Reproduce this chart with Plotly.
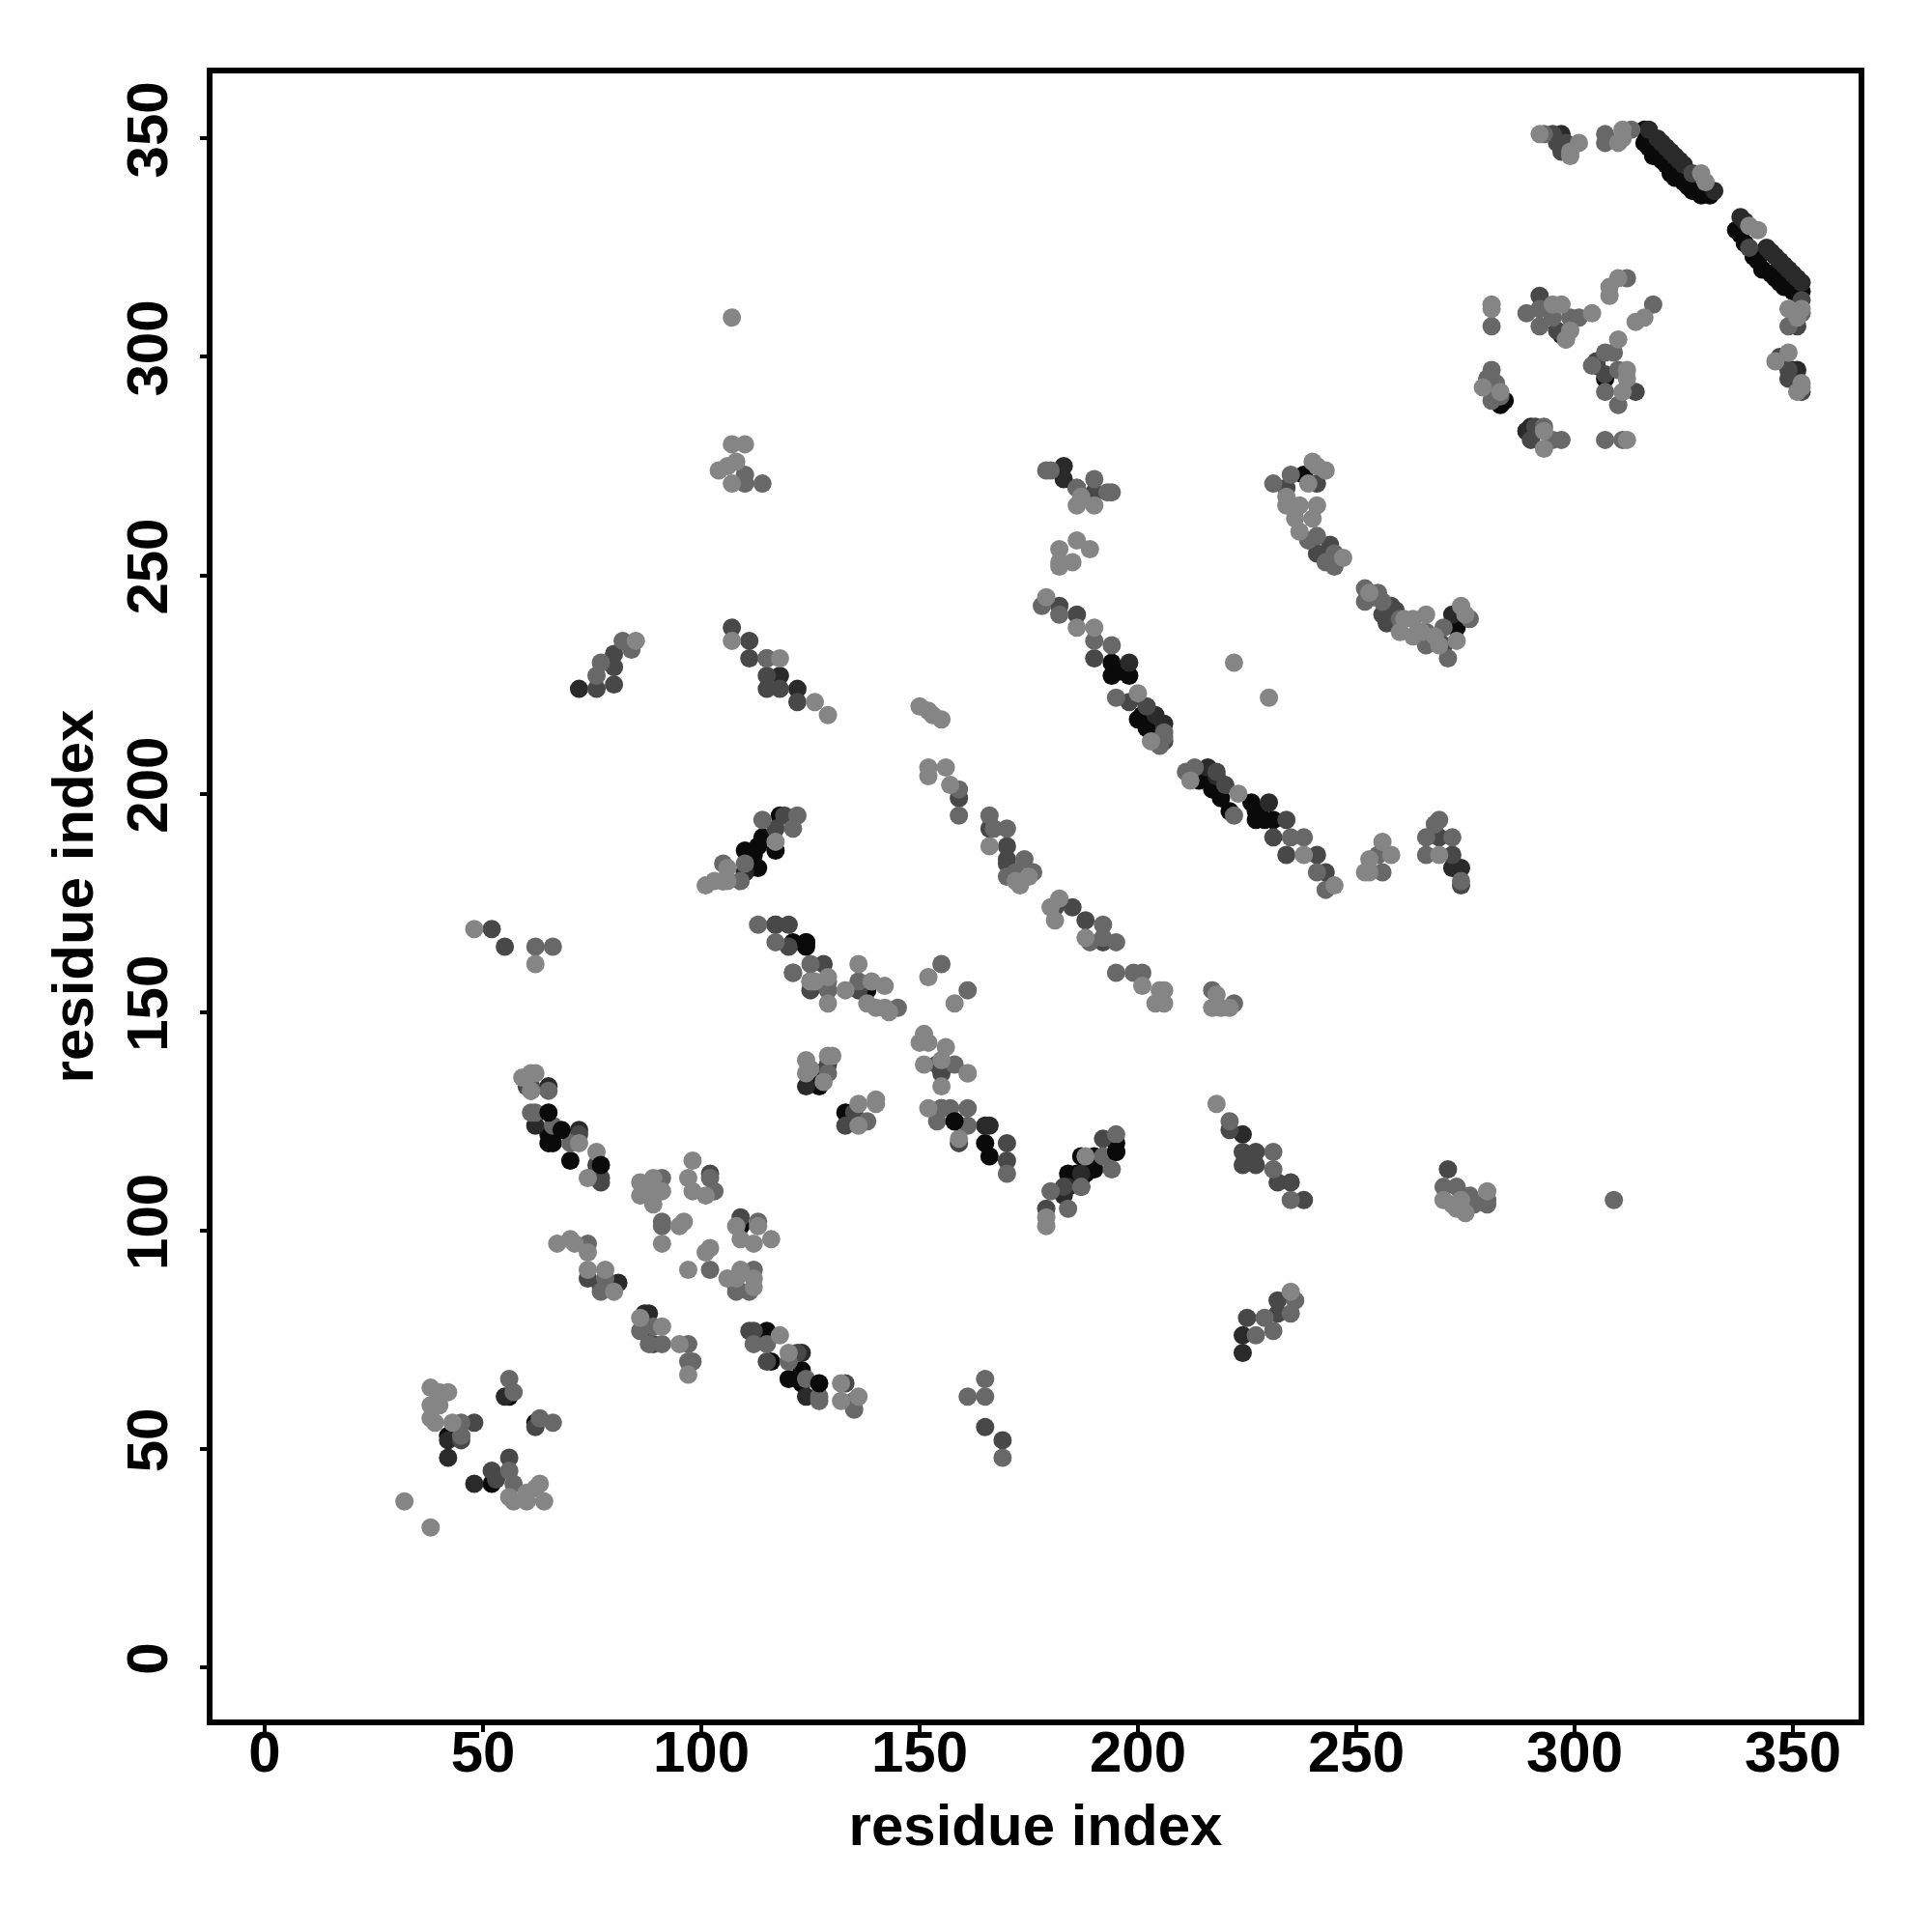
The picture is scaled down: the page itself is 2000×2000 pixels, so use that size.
import plotly.graph_objects as go

tick_vals = [0, 50, 100, 150, 200, 250, 300, 350]

black_pts = [(42,53),(56,62),(62,56),(52,42),(65,122),(66,120),(65,120),(70,116),(87,77),(115,77),(116,70),(120,66),(123,68),(123,65),
 (127,133),(127,136),(133,127),(109,101),(110,182),(113,183),(110,187),(113,188),(114,190),(112,186),(117,187),(118,195),(121,166),(124,166),(124,165),(125,157),(138,155),
 (158,125),(165,120),(166,117),(184,113),(187,110),(185,112),(186,113),(188,113),(187,112),(187,117),(190,114),(190,117),(195,118),(195,120),
 (194,230),(194,227),(196,228),(198,227),(200,217),(202,215),(201,218),(204,213),(214,203),(215,204),(217,201),(219,199),(221,196),(226,198),(227,196),(227,194),(231,194),(229,194),
 (238,273),(273,238),(316,352),(316,349),(317,348),(318,346),(320,345),(321,344),(322,342),(323,341),(325,340),(326,339),(327,338),(329,337),(331,337),
 (337,329),(338,328),(339,326),(341,323),(342,322),(343,320),(345,319),(346,318),(347,317),(348,316),(350,315),(352,315),
 (297,305),(307,295),(283,289),(284,290),(289,283),(305,298)]

darker_pts = [(42,52),(42,48),(55,62),(48,42),(65,133),(62,124),(72,123),(87,81),(88,81),(87,79),(123,72),(124,62),(124,133),(117,170),(105,180),
 (166,124),(165,124),(187,113),(183,275),(183,272),(198,230),(204,218),(206,216),(216,206),(218,204),(230,198),(272,183),(274,183),(272,241),(72,224),(118,227),(122,224),(224,72),(224,76),(224,122),
 (317,352),(319,350),(320,349),(321,348),(322,347),(323,346),(324,345),(325,344),(332,338),(338,332),(339,331),(344,325),(345,324),(346,323),(347,322),(348,321),(349,320),(350,319),(351,318),(352,317),
 (297,351),(290,284),(351,297),(350,297),(81,88),(110,182),(289,283),(183,108),(184,110)]

dark_pts = [(62,55),(48,56),(56,48),(52,45),(53,43),(60,133),(61,133),(72,122),(77,112),(77,111),(76,115),(102,113),(109,103),(74,89),(77,87),(89,74),(111,77),(112,77),(115,70),(122,72),
 (133,65),(133,124),(135,127),(129,138),(159,199),(166,192),(170,188),(170,185),(170,184),(181,174),(185,174),(170,120),(170,116),(179,105),(183,110),(192,121),(186,270),(190,269),(182,243),(186,241),(190,231),(198,221),(202,220),
 (220,202),(231,190),(241,186),(243,182),(234,186),(241,271),(244,257),(241,255),(259,242),(258,243),(256,241),(257,239),(270,234),(269,190),(272,186),(274,179),(234,270),
 (76,224),(80,225),(80,229),(80,232),(107,238),(111,235),(111,231),(115,231),(115,227),(115,224),(118,224),(122,221),
 (52,169),(55,165),(165,55),(169,52),(225,80),(232,84),(232,81),(221,123),(224,118),(227,118),(224,115),(227,115),(232,111),(235,111),(238,107),(271,114),
 (295,351),(296,349),(297,347),(298,349),(327,342),(340,325),(352,313),(351,307),(347,300),(349,297),(349,295),(352,292),(292,314),(296,306),(305,299),(307,296),(314,292),(281,292),(290,281),(291,284),(121,159),(154,138),(155,136),(159,120),(155,128),(117,192),(119,195),(120,165),(117,170),(120,170),(128,161),(136,155),(125,155),(204,212),(206,212),(218,205),(234,194),(45,53),(45,52),(192,166),(188,171)]

mid_pts = [(66,56),(57,42),(45,56),(45,53),(56,66),(57,63),(63,57),(56,45),(61,127),(62,127),(61,132),(65,132),(66,124),(70,120),(74,97),(77,86),(91,112),(102,112),(103,109),(91,102),(91,101),(113,102),(102,91),(112,91),(108,87),(108,86),(111,86),(78,89),(86,77),(89,78),(88,74),(91,74),(97,74),(98,70),(97,70),(112,74),(115,74),(120,70),(124,66),(127,61),(127,62),(135,59),(135,61),
 (129,136),(138,125),(109,180),(105,184),(110,184),(114,194),(122,195),(121,192),(113,170),(117,166),(121,159),(125,161),(129,155),(129,157),(136,157),(145,151),(155,161),(161,155),(158,138),(155,128),(154,125),(157,128),(161,128),(161,124),(170,113),
 (166,195),(167,192),(170,192),(174,185),(176,182),(170,181),(172,182),(192,170),(192,167),(195,166),(189,166),(195,159),(199,159),(201,159),(217,155),(222,152),(159,195),(159,201),(180,109),(184,105),(187,110),(194,114),(195,122),(192,117),
 (179,274),(180,274),(190,272),(186,270),(193,269),(194,269),(178,243),(182,241),(190,235),(194,234),(195,222),(211,205),(213,206),(222,195),(235,190),(238,190),(241,182),(243,178),
 (255,186),(256,182),(269,194),(268,193),(266,190),(272,190),(266,186),(274,180),(231,271),(235,273),(239,258),(241,259),(245,255),(243,253),(245,252),(246,254),(252,247),(252,244),(254,245),(255,246),(256,244),(260,240),(266,237),(266,234),(271,231),(270,238),(276,240),
 (77,230),(76,227),(84,233),(82,235),(110,273),(110,271),(114,271),(115,231),(62,165),(66,165),(161,62),(165,62),(165,66),(169,48),(229,80),(227,76),(231,77),(235,81),(236,84),(221,125),(231,118),(231,114),(235,107),(270,110),(273,110),(276,108),(277,106),(280,107),(280,106),(309,107),
 (293,351),(307,351),(307,349),(313,352),(352,310),(349,307),(281,307),(289,310),(292,311),(292,307),(295,309),(299,309),(301,309),(298,304),(307,301),(304,298),(309,301),(307,292),(310,297),(310,289),(312,318),(318,312),(281,297),(282,294),(280,295),(281,290),(283,291),(293,284),(295,281),(297,281),(307,281),(311,281),(206,214),(205,211),(206,213)]

light_pts = [(32,38),(38,32),(38,64),(42,63),(40,63),(38,60),(40,60),(38,57),(39,56),(43,56),(56,39),(57,38),(60,40),(63,42),(60,38),(64,38),(62,41),(59,135),(61,136),(62,136),(61,132),(72,120),(76,118),(74,112),
 (86,111),(86,108),(89,112),(89,109),(91,109),(89,106),(88,108),(98,116),(97,112),(98,109),(101,108),(96,102),(95,101),(108,101),(109,98),(112,97),(116,98),(113,101),(102,96),(101,95),(97,91),(109,91),(106,89),(108,89),(112,89),(112,87),
 (67,97),(70,98),(71,97),(74,95),(74,91),(78,91),(80,86),(86,80),(91,78),(95,74),(97,67),(91,97),(118,76),(120,72),(132,65),(132,61),(136,62),
 (129,140),(130,140),(124,139),(125,137),(124,136),(128,134),(140,130),(140,129),(136,129),(136,124),
 (101,179),(103,180),(106,180),(105,180),(106,183),(117,189),(126,157),(125,157),(129,158),(129,152),(136,161),(133,155),(139,157),(142,156),(138,152),(142,151),(143,150),(140,151),(152,158),(158,152),
 (151,145),(150,143),(152,143),(151,138),(156,142),(155,139),(161,136),(155,133),(152,128),(159,121),(179,101),(179,103),(182,176),(180,174),(181,171),(188,167),(172,180),(173,179),(188,117),(166,188),
 (201,156),(205,155),(206,155),(204,152),(206,152),(217,151),(219,151),(221,151),(218,154),(218,129),(186,266),(190,266),(187,268),(186,258),(182,256),(189,256),(185,253),(182,253),(182,252),
 (179,245),(186,238),(190,238),(200,223),(203,212),(212,203),(223,200),(238,186),(245,179),(256,189),(253,185),(258,186),(252,182),(253,182),(269,186),
 (234,268),(240,276),(243,274),(241,275),(239,271),(234,266),(237,266),(241,266),(236,263),(240,263),(237,260),(247,254),(253,246),(261,240),(263,240),(260,237),(263,236),(265,237),(268,236),(266,241),(269,234),(273,235),(274,243),(275,241),
 (222,230),(230,222),(107,309),(106,275),(107,280),(110,280),(108,276),(107,271),(104,274),(85,235),(107,235),(118,231),(126,221),(129,218),(48,169),(62,161),(235,86),
 (150,220),(152,219),(153,218),(155,217),(152,206),(156,206),(152,204),(157,202),
 (270,107),(272,106),(273,105),(274,107),(275,104),(280,109),(292,351),(299,346),(301,349),(299,347),(311,352),(310,349),(311,350),(329,342),(330,340),(340,330),(342,329),
 (352,311),(349,311),(351,309),(281,312),(281,311),(295,312),(297,312),(304,310),(299,306),(298,304),(310,318),(308,316),(308,314),(316,309),(314,308),(310,304),(312,297),(312,295),(311,292),(279,293),(283,292),(293,279),(293,283),(312,281),(349,301),(346,299),(352,294),(352,293),(351,292),(161,136),(175,181)]

top_pts = [(65,127),(68,123),(77,115),(127,65),(158,125),(124,166),(195,118)]

layers = [
    (black_pts, "#0a0a0a"),
    (darker_pts, "#2a2a2a"),
    (dark_pts, "#484848"),
    (mid_pts, "#686868"),
    (light_pts, "#858585"),
    (top_pts, "#0a0a0a"),
]

fig = go.Figure()
for pts, colour in layers:
    fig.add_trace(go.Scatter(x=[p[0] for p in pts], y=[p[1] for p in pts], mode="markers",
                             marker=dict(size=19, color=colour, line=dict(width=0)),
                             showlegend=False))

font = dict(family="Liberation Sans", size=60, color="black", weight="bold")
axis = dict(showgrid=False, zeroline=False, showline=True, mirror=True,
            linecolor="black", linewidth=5.5, ticks="outside", ticklen=7,
            tickwidth=4, tickcolor="black", tickvals=tick_vals,
            ticktext=[str(v) for v in tick_vals], tickfont=font)

fig.update_layout(
    width=2000, height=2000, autosize=False,
    margin=dict(l=212, r=84, t=68, b=228),
    paper_bgcolor="white", plot_bgcolor="white",
    xaxis=dict(axis, range=[-11.95, 365.05], ticklabelstandoff=-31,
               title=dict(text="residue index", font=font, standoff=24)),
    yaxis=dict(axis, range=[-11.94, 364.9], tickangle=-90, ticklabelstandoff=10,
               title=dict(text="residue index", font=font, standoff=5)),
)
fig.write_html("out.html")
